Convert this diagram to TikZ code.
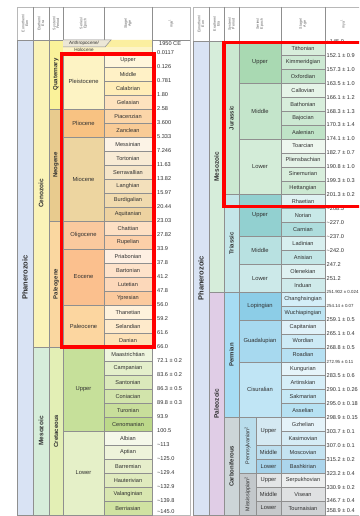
\documentclass[tikz,border=0pt]{standalone}
\usepackage{fontspec}
\setmainfont{Liberation Sans}
\definecolor{gridgray}{HTML}{8F8F8F}
\definecolor{framegray}{HTML}{B8B8B8}
\definecolor{txt}{HTML}{303030}
\tikzset{
  cell/.style={draw=gridgray,line width=0.5pt},
  lbl/.style={font=\fontsize{5.6}{6}\selectfont,text=txt,inner sep=0pt},
  eplbl/.style={lbl,font=\fontsize{5.8}{6}\selectfont},
  vlbl/.style={lbl,rotate=90,font=\fontsize{6}{7}\selectfont\bfseries},
  sublbl/.style={lbl,rotate=90,font=\fontsize{5.4}{6}\selectfont},
  eralbl/.style={vlbl,font=\fontsize{6.5}{7}\selectfont\bfseries},
  eonlbl/.style={vlbl,font=\fontsize{7.5}{8}\selectfont\bfseries},
  agelbl/.style={lbl,anchor=west},
  hdr/.style={rotate=90,align=center,font=\fontsize{3.6}{3.9}\selectfont,text=txt!80,inner sep=0pt},
  redbox/.style={draw=red,line width=3.5pt},
}
% smaller face for the longest ages
\newcommand{\smage}{\fontsize{4.4}{5}\selectfont}
% one coloured cell with its label: [style]{name}{x1}{x2}{row1}{row2}{hex}{text}
\newcommand{\blk}[8][eplbl]{%
  \edef\tmpcol{\noexpand\definecolor{cc}{HTML}{#7}}\tmpcol
  \draw[cell,fill=cc] (#3,{\ytop+(#5)*\rh}) rectangle (#4,{\ytop+(#6)*\rh});
  \node[#1] (#2) at ({(#3+#4)/2},{\ytop+((#5)+(#6))/2*\rh}) {#8};}
\newcommand{\stagecol}[4]{%
  \foreach \n/\c [count=\i from 0] in {#4}{\blk[lbl]{#1\i}{#2}{#3}{\i}{\i+1}{\c}{\n}}}

\begin{document}
\begin{tikzpicture}[x=1pt,y=-1pt]
\useasboundingbox (0,0) rectangle (359,516);
\clip (0,0) rectangle (359,516);
\fill[white] (0,0) rectangle (359,516);

% left panel
\begin{scope}
\def\ytop{53}\def\rh{14}
\draw[framegray] (17,7) rectangle (190,515);
\foreach \xx in {33,49,63,104,152} \draw[cell] (\xx,7) -- (\xx,40);
\draw[cell] (17,40) -- (190,40);
\node[hdr] (lh1) at (25,23.5) {Eonothem/\\Eon};
\node[hdr] (lh2) at (41,23.5) {Erathem/\\Era};
\node[hdr] (lh3) at (56,23.5) {System/\\Period};
\node[hdr] (lh4) at (83.5,23.5) {Series/\\Epoch};
\node[hdr] (lh5) at (128,23.5) {Stage/\\Age};
\node[hdr] (lh6) at (171,23.5) {mya\textsuperscript{1}};
\blk[eonlbl]{lph}{17}{33}{-0.929}{33}{D9E3F4}{Phanerozoic}
\blk[eralbl]{lcz}{33}{49}{-0.929}{21}{FAF3B8}{Cenozoic}
\blk[eralbl]{lmz}{33}{49}{21}{33}{D6EDDA}{Mesozoic}
\blk[vlbl]{lqt}{49}{63}{-0.929}{4}{FAF29A}{Quaternary}
\blk[vlbl]{lng}{49}{63}{4}{12}{E8CB8E}{Neogene}
\blk[vlbl]{lpg}{49}{63}{12}{21}{FAD7A0}{Paleogene}
\blk[vlbl]{lkr}{49}{63}{21}{33}{E3EFB5}{Cretaceous}
% Holocene row
\fill[fill={rgb,255:red,253;green,244;blue,200}] (63,40) rectangle (152,53);
\fill[fill={rgb,255:red,251;green,239;blue,160}] (111,40) -- (152,40) -- (152,47) -- (105,47) -- cycle;
\draw[cell,fill={rgb,255:red,236;green,231;blue,214}] (63,40) -- (111,40) -- (105,47) -- (63,47);
\draw[cell] (63,53) -- (152,53) (152,40) -- (152,53);
\node[lbl,font=\fontsize{4.6}{5}\selectfont] (anth) at (84,43.6) {Anthropocene/};
\node[lbl,font=\fontsize{4.6}{5}\selectfont] (holo) at (84,50.3) {Holocene};
\blk{lep1}{63}{104}{0}{4}{FDF3C4}{Pleistocene}
\blk{lep2}{63}{104}{4}{6}{F8C282}{Pliocene}
\blk{lep3}{63}{104}{6}{12}{EDD5A0}{Miocene}
\blk{lep4}{63}{104}{12}{14}{FAC99E}{Oligocene}
\blk{lep5}{63}{104}{14}{18}{FBC08E}{Eocene}
\blk{lep6}{63}{104}{18}{21}{FCD6A0}{Paleocene}
\blk{lep7}{63}{104}{21}{27}{C6E09A}{Upper}
\blk{lep8}{63}{104}{27}{33}{E5F0C8}{Lower}
\stagecol{lst}{104}{152}{Upper/FFF6DC,Middle/FFF1C6,Calabrian/FFEDB8,Gelasian/FDE2BE,
  Piacenzian/FBD5A8,Zanclean/F9CB96,Messinian/FCF3E6,Tortonian/F8EBD5,Serravallian/F5E5C8,
  Langhian/F3E0BB,Burdigalian/F0DAAE,Aquitanian/EDD2A0,Chattian/FDE0C4,Rupelian/FCCFA8,
  Priabonian/FEEFE2,Bartonian/FDE2CA,Lutetian/FCD8BA,Ypresian/FBCA9E,Thanetian/FEF2DC,
  Selandian/FEEACB,Danian/FDE1B6,Maastrichtian/EEF5DE,Campanian/E4EFCB,Santonian/DBE9BB,
  Coniacian/D2E4AB,Turonian/C8DE9B,Cenomanian/BCD88A,Albian/F5F8EA,Aptian/EEF3DA,
  Barremian/E6EECB,Hauterivian/DFEABE,Valanginian/D8E6B0,Berriasian/D0E2A2}
\node[agelbl] (lv) at (159,43.5) {1950 CE};
\foreach \v [count=\i from 0] in {0.0117,0.126,0.781,1.80,2.58,3.600,5.333,7.246,11.63,13.82,
  15.97,20.44,23.03,27.82,33.9,37.8,41.2,47.8,56.0,59.2,61.6,66.0,72.1 ± 0.2,83.6 ± 0.2,
  86.3 ± 0.5,89.8 ± 0.3,93.9,100.5,\textasciitilde113,\textasciitilde125.0,\textasciitilde129.4,
  \textasciitilde132.9,\textasciitilde139.8,\textasciitilde145.0}
  \node[agelbl] (lv\i) at (157,{min(53+\i*14,512)}) {\v};
\draw[redbox] (61.5,54) rectangle (154,347);
\end{scope}

% right panel
\begin{scope}
\def\ytop{41.5}\def\rh{13.926}
\draw[framegray] (193,7) rectangle (370,515);
\foreach \xx in {209,224,239,281,325} \draw[cell] (\xx,7) -- (\xx,41.5);
\draw[cell] (193,41.5) -- (370,41.5);
\node[hdr] (rh1) at (201,24) {Eonothem/\\Eon};
\node[hdr] (rh2) at (216.5,24) {Erathem/\\Era};
\node[hdr] (rh3) at (231.5,24) {System/\\Period};
\node[hdr] (rh4) at (260,24) {Series/\\Epoch};
\node[hdr] (rh5) at (303,24) {Stage/\\Age};
\node[hdr] (rh6) at (343,24) {mya\textsuperscript{1}};
\blk[eonlbl]{rph}{193}{209}{0}{34}{D9E3F4}{Phanerozoic}
\blk[eralbl]{rmz}{209}{224}{0}{18}{D6EDDA}{Mesozoic}
\blk[eralbl]{rpz}{209}{224}{18}{34}{E0CDE6}{Paleozoic}
\blk[vlbl]{rjr}{224}{239}{0}{11}{CBE8D1}{Jurassic}
\blk[vlbl]{rtr}{224}{239}{11}{18}{C4E6E9}{Triassic}
\blk[vlbl]{rpm}{224}{239}{18}{27}{A6DCF3}{Permian}
\blk[vlbl]{rcb}{224}{239}{27}{34}{CDD5D8}{Carboniferous}
\blk{rep1}{239}{281}{0}{3}{A9D9B2}{Upper}
\blk{rep2}{239}{281}{3}{7}{C4E5CB}{Middle}
\blk{rep3}{239}{281}{7}{11}{D3ECD8}{Lower}
\blk{rep4}{239}{281}{11}{14}{92D0D0}{Upper}
\blk{rep5}{239}{281}{14}{16}{B8E1E1}{Middle}
\blk{rep6}{239}{281}{16}{18}{CCE9E9}{Lower}
\blk{rep7}{239}{281}{18}{20}{8CCDE7}{Lopingian}
\blk{rep8}{239}{281}{20}{23}{A7D9EF}{Guadalupian}
\blk{rep9}{239}{281}{23}{27}{C0E5F5}{Cisuralian}
\blk[sublbl]{rsp1}{239}{256}{27}{31}{B9DDEC}{Pennsylvanian\textsuperscript{2}}
\blk[sublbl]{rsp2}{239}{256}{31}{34}{C3C8CB}{Mississippian\textsuperscript{2}}
\blk{rcp1}{256}{281}{27}{29}{D5E9F2}{Upper}
\blk{rcp2}{256}{281}{29}{30}{BCDEEE}{Middle}
\blk{rcp3}{256}{281}{30}{31}{A4D2EA}{Lower}
\blk{rcp4}{256}{281}{31}{32}{E3E5E6}{Upper}
\blk{rcp5}{256}{281}{32}{33}{D4D7D8}{Middle}
\blk{rcp6}{256}{281}{33}{34}{C6C9CB}{Lower}
\stagecol{rst}{281}{325}{Tithonian/D8EEDC,Kimmeridgian/CDE9D3,Oxfordian/BFE2C7,
  Callovian/E6F4E8,Bathonian/D8EEDC,Bajocian/CCE8D2,Aalenian/BFE3C7,Toarcian/EEF7EF,
  Pliensbachian/E4F2E7,Sinemurian/D8EEDC,Hettangian/CCE8D2,Rhaetian/E0F2F2,Norian/C8E9E8,
  Carnian/AEDDDD,Ladinian/D8EFEF,Anisian/C3E6E6,Olenekian/DFF1F1,Induan/CFEAEA,
  Changhsingian/D4EEF8,Wuchiapingian/BDE4F2,Capitanian/E0F1F8,Wordian/CDEAF5,Roadian/B6E0F2,
  Kungurian/E6F4FA,Artinskian/D6EEF8,Sakmarian/C6E8F5,Asselian/B6E1F2,Gzhelian/E5F3F9,
  Kasimovian/D6ECF5,Moscovian/C4E3F1,Bashkirian/ACD5EC,Serpukhovian/ECEEEE,Visean/DFE1E2,
  Tournaisian/CFD2D4}
\foreach \v [count=\i from 0] in {\textasciitilde145.0,152.1 ± 0.9,157.3 ± 1.0,163.5 ± 1.0,
  166.1 ± 1.2,168.3 ± 1.3,170.3 ± 1.4,174.1 ± 1.0,182.7 ± 0.7,190.8 ± 1.0,199.3 ± 0.3,
  201.3 ± 0.2,\textasciitilde208.5,\textasciitilde227.0,\textasciitilde237.0,\textasciitilde242.0,
  247.2,251.2,\smage 251.902 ± 0.024,\smage 254.14 ± 0.07,259.1 ± 0.5,265.1 ± 0.4,268.8 ± 0.5,
  \smage 272.95 ± 0.11,283.5 ± 0.6,290.1 ± 0.26,295.0 ± 0.18,298.9 ± 0.15,303.7 ± 0.1,
  307.0 ± 0.1,315.2 ± 0.2,323.2 ± 0.4,330.9 ± 0.2,346.7 ± 0.4,358.9 ± 0.4}
  \node[agelbl] (rv\i) at (326.5,{min(41.5+\i*13.926,511)}) {\v};
\draw[redbox] (224,42.5) rectangle (370,206.5);
\end{scope}
\end{tikzpicture}
\end{document}
